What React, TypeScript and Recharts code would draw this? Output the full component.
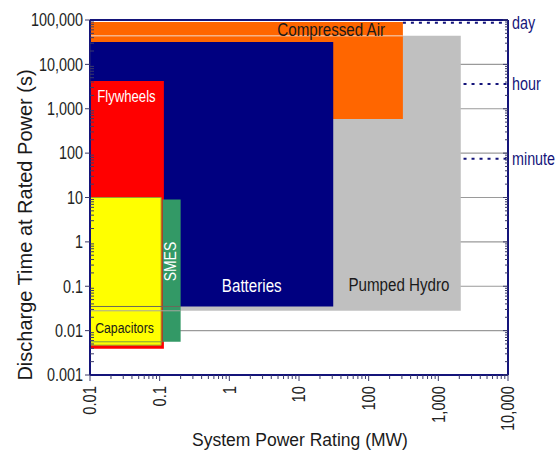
import React from "react";
import {
  CartesianGrid,
  ComposedChart,
  ReferenceArea,
  ReferenceDot,
  ReferenceLine,
  XAxis,
  YAxis,
} from "recharts";

// axes (log scales)
const powerTicks = [0.01, 0.1, 1, 10, 100, 1000, 10000];
const powerTickLabels = ["0.01", "0.1", "1", "10", "100", "1,000", "10,000"];
const timeTicks = [0.001, 0.01, 0.1, 1, 10, 100, 1000, 10000, 100000];
const timeTickLabels = ["0.001", "0.01", "0.1", "1", "10", "100", "1,000", "10,000", "100,000"];
const minorSteps = [2, 3, 4, 5, 6, 7, 8, 9];

// technology ranges, drawn back to front
const technologies = ["Pumped Hydro", "Compressed Air", "Batteries", "Flywheels", "Capacitors", "SMES"];
const powerMin = [0.01, 0.01, 0.01, 0.01, 0.01, 0.11];
const powerMax = [2100, 310, 31, 0.115, 0.105, 0.2];
const timeMin = [0.028, 590, 0.035, 0.0039, 0.0047, 0.0056];
const timeMax = [44000, 90000, 32000, 4200, 10, 9];

// where each name sits (MW, s)
const labelPower = [272, 29, 2.1, 0.0334, 0.0313, 0.14];
const labelTime = [0.112, 62000, 0.104, 1900, 0.0117, 0.36];

// time markers on the right
const markerNames = ["day", "hour", "minute"];
const markerSeconds = [86400, 3600, 75];
const markerFrom = [310, 2300, 2300];

const FONT = "'Liberation Sans', Arial, Helvetica, sans-serif";
const NAVY = "#14147a";
const TICK = "#3a3a6a";
const SQUEEZE = 0.82; // the original uses a narrow sans

const STYLE: Record<string, { fill: string; text: string; size: number; angle?: number }> = {
  "Pumped Hydro": { fill: "#c0c0c0", text: "#1a1a1a", size: 18.5 },
  "Compressed Air": { fill: "#ff6600", text: "#1a1a1a", size: 18.5 },
  Batteries: { fill: "#000080", text: "#ffffff", size: 18.5 },
  Flywheels: { fill: "#ff0000", text: "#ffffff", size: 16 },
  Capacitors: { fill: "#ffff00", text: "#1a1a1a", size: 15 },
  SMES: { fill: "#339966", text: "#ffffff", size: 17, angle: -90 },
};

const decades = (ticks: number[]) =>
  ticks.slice(0, -1).flatMap((d) => [d, ...minorSteps.map((m) => m * d)]).concat(ticks[ticks.length - 1]);

const timeAll = decades(timeTicks);
const powerAll = decades(powerTicks);

function labelOf(ticks: number[], labels: string[], v: number) {
  const i = ticks.indexOf(v);
  return i >= 0 ? labels[i] : null;
}

function NarrowText({
  x,
  y,
  size,
  anchor,
  fill,
  angle = 0,
  squeeze = SQUEEZE,
  children,
}: {
  x: number;
  y: number;
  size: number;
  anchor: "start" | "middle" | "end";
  fill: string;
  angle?: number;
  squeeze?: number;
  children: React.ReactNode;
}) {
  return (
    <text
      x={0}
      y={0}
      dy="0.35em"
      textAnchor={anchor}
      transform={`translate(${x} ${y}) rotate(${angle}) scale(${squeeze} 1)`}
      fontSize={size}
      fontFamily={FONT}
      fill={fill}
    >
      {children}
    </text>
  );
}

// text placed at a reference dot
function dotText(value: string, color: string, size: number, anchor: "middle" | "start", angle = 0, dx = 0) {
  return (p: any) => {
    const vb = p.viewBox || {};
    return (
      <NarrowText x={(vb.x ?? 0) + dx} y={vb.y ?? 0} size={size} anchor={anchor} fill={color} angle={angle}>
        {value}
      </NarrowText>
    );
  };
}

function LeftTick(props: any) {
  const { x, y, payload } = props;
  const label = labelOf(timeTicks, timeTickLabels, payload.value);
  return (
    <g>
      <line x1={x} y1={y} x2={label ? x - 5 : x + 4} y2={y} stroke={TICK} />
      {label && (
        <NarrowText x={x - 7} y={y} size={18} squeeze={0.8} anchor="end" fill="#222">
          {label}
        </NarrowText>
      )}
    </g>
  );
}

function RightTick(props: any) {
  const { x, y, payload } = props;
  const major = timeTicks.includes(payload.value);
  return <line x1={x} y1={y} x2={x - (major ? 5 : 3)} y2={y} stroke={TICK} />;
}

function BottomTick(props: any) {
  const { x, y, payload } = props;
  const label = labelOf(powerTicks, powerTickLabels, payload.value);
  return (
    <g>
      <line x1={x} y1={y} x2={x} y2={y + (label ? 6 : 4)} stroke={TICK} />
      {label && (
        <NarrowText x={x} y={y + 11} size={18} squeeze={0.82} anchor="end" fill="#222" angle={-90}>
          {label}
        </NarrowText>
      )}
    </g>
  );
}

function TopTick(props: any) {
  const { x, y, payload } = props;
  const major = powerTicks.includes(payload.value);
  return <line x1={x} y1={y} x2={x} y2={y - (major ? 5 : 3)} stroke={TICK} />;
}

export default function App() {
  return (
    <div style={{ position: "absolute", left: 0, top: 0, background: "#fff" }}>
      <ComposedChart width={557} height={452} margin={{ top: 0, right: 0, bottom: 0, left: 0 }}>
        <CartesianGrid horizontalValues={timeTicks} vertical={false} stroke="#9a9a9a" strokeWidth={1.2} />
        <XAxis
          type="number"
          dataKey="x"
          scale="log"
          domain={[0.01, 10000]}
          allowDataOverflow
          ticks={powerAll}
          interval={0}
          height={77}
          tickSize={0}
          tickMargin={0}
          tick={<BottomTick />}
          axisLine={{ stroke: NAVY, strokeWidth: 2 }}
          label={{
            content: () => (
              <text x={300} y={446} textAnchor="middle" fontSize={17.5} fontFamily={FONT} fill="#1a1a1a">
                System Power Rating (MW)
              </text>
            ),
          }}
        />
        <XAxis
          xAxisId="top"
          orientation="top"
          type="number"
          scale="log"
          domain={[0.01, 10000]}
          allowDataOverflow
          ticks={powerAll}
          interval={0}
          height={20}
          tickSize={0}
          tickMargin={0}
          tick={<TopTick />}
          axisLine={{ stroke: NAVY, strokeWidth: 2 }}
        />
        <YAxis
          type="number"
          dataKey="y"
          scale="log"
          domain={[0.001, 100000]}
          allowDataOverflow
          ticks={timeAll}
          interval={0}
          width={90}
          tickSize={0}
          tickMargin={0}
          tick={<LeftTick />}
          axisLine={{ stroke: NAVY, strokeWidth: 2 }}
          label={{
            content: () => (
              <text
                x={25}
                y={225}
                dy="0.35em"
                textAnchor="middle"
                transform="rotate(-90 25 225)"
                fontSize={20}
                fontFamily={FONT}
                fill="#1a1a1a"
              >
                Discharge Time at Rated Power (s)
              </text>
            ),
          }}
        />
        <YAxis
          yAxisId="right"
          orientation="right"
          type="number"
          scale="log"
          domain={[0.001, 100000]}
          allowDataOverflow
          ticks={timeAll}
          interval={0}
          width={49}
          tickSize={0}
          tickMargin={0}
          tick={<RightTick />}
          axisLine={{ stroke: NAVY, strokeWidth: 2 }}
        />

        {technologies.map((name, i) => (
          <ReferenceArea
            key={name}
            x1={powerMin[i]}
            x2={powerMax[i]}
            y1={timeMin[i]}
            y2={timeMax[i]}
            fill={STYLE[name].fill}
            fillOpacity={1}
            stroke={name === "Capacitors" ? "#9a9a30" : "none"}
            strokeWidth={1}
            ifOverflow="visible"
          />
        ))}

        {/* outlines showing through the front boxes */}
        <ReferenceLine
          segment={[{ x: powerMin[0], y: timeMax[0] }, { x: powerMax[1], y: timeMax[0] }]}
          stroke="#f5b48a"
          strokeWidth={1.5}
          ifOverflow="visible"
        />
        <ReferenceLine
          segment={[{ x: powerMin[2], y: timeMin[2] }, { x: powerMax[5], y: timeMin[2] }]}
          stroke="#6a6a5a"
          strokeWidth={1}
          ifOverflow="visible"
        />
        <ReferenceLine
          segment={[{ x: powerMin[0], y: timeMin[0] }, { x: powerMax[5], y: timeMin[0] }]}
          stroke="#a8a8a0"
          strokeWidth={1}
          ifOverflow="visible"
        />
        <ReferenceLine
          segment={[{ x: powerMin[4], y: timeMin[5] }, { x: powerMin[5], y: timeMin[5] }]}
          stroke="#7a9a40"
          strokeWidth={1}
          ifOverflow="visible"
        />

        {markerNames.map((name, i) => (
          <ReferenceLine
            key={name}
            segment={[{ x: markerFrom[i], y: markerSeconds[i] }, { x: 10000, y: markerSeconds[i] }]}
            stroke={NAVY}
            strokeWidth={2}
            strokeDasharray="3 5"
            ifOverflow="visible"
          />
        ))}
        {markerNames.map((name, i) => (
          <ReferenceDot
            key={name + "-label"}
            x={10000}
            y={markerSeconds[i]}
            r={0}
            fill="none"
            stroke="none"
            ifOverflow="visible"
            label={{ content: dotText(name, NAVY, 17.5, "start", 0, 4) }}
          />
        ))}

        {technologies.map((name, i) => (
          <ReferenceDot
            key={name + "-name"}
            x={labelPower[i]}
            y={labelTime[i]}
            r={0}
            fill="none"
            stroke="none"
            ifOverflow="visible"
            label={{ content: dotText(name, STYLE[name].text, STYLE[name].size, "middle", STYLE[name].angle ?? 0) }}
          />
        ))}
      </ComposedChart>
    </div>
  );
}
